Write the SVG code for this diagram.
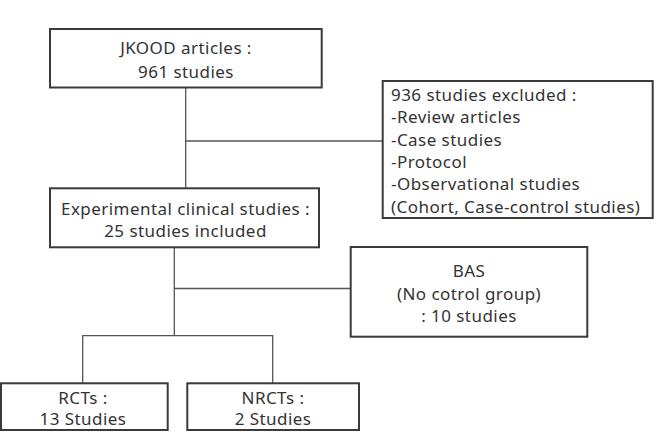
<svg xmlns="http://www.w3.org/2000/svg" width="659" height="446" viewBox="0 0 659 446">
<style>
.box{fill:#fff;stroke:#3a3a3a;stroke-width:2}
.con{fill:none;stroke:#555;stroke-width:1.3}
text{font-family:"Noto Sans","Liberation Sans",sans-serif;font-size:17px;letter-spacing:0.45px;fill:#333}
.c{text-anchor:middle}
</style>
<rect width="659" height="446" fill="#fff"/>
<g id="connectors">
<path class="con" d="M185.7,88 V188.3 M185.7,141 H382.7"/>
<path class="con" d="M174.3,247.3 V335.7 M174.3,288.5 H350.7 M82.7,383.3 V335.7 H272.7 V383.3"/>
</g>
<g id="jkood">
<rect class="box" x="50" y="29" width="271.7" height="58.5"/>
<text class="c" x="186" y="54">JKOOD articles :</text>
<text class="c" x="186" y="77.5">961 studies</text>
</g>
<g id="excluded">
<rect class="box" x="382.7" y="81" width="270" height="137"/>
<text x="391" y="101">936 studies excluded :</text>
<text x="391" y="123.3">-Review articles</text>
<text x="391" y="145.6">-Case studies</text>
<text x="391" y="167.9">-Protocol</text>
<text x="391" y="190.2">-Observational studies</text>
<text x="391" y="212.5">(Cohort, Case-control studies)</text>
</g>
<g id="experimental">
<rect class="box" x="50" y="188.3" width="269" height="59"/>
<text class="c" x="185.5" y="215">Experimental clinical studies :</text>
<text class="c" x="185.5" y="237">25 studies included</text>
</g>
<g id="bas">
<rect class="box" x="350.7" y="247" width="236.6" height="89.7"/>
<text class="c" x="469" y="277">BAS</text>
<text class="c" x="469" y="299.5">(No cotrol group)</text>
<text class="c" x="469" y="322">: 10 studies</text>
</g>
<g id="rcts">
<rect class="box" x="1" y="383.3" width="166.7" height="46.7"/>
<text class="c" x="83" y="404">RCTs :</text>
<text class="c" x="83" y="425.3">13 Studies</text>
</g>
<g id="nrcts">
<rect class="box" x="187.3" y="383.3" width="171.7" height="46.7"/>
<text class="c" x="273" y="404">NRCTs :</text>
<text class="c" x="273" y="425.3">2 Studies</text>
</g>
</svg>
